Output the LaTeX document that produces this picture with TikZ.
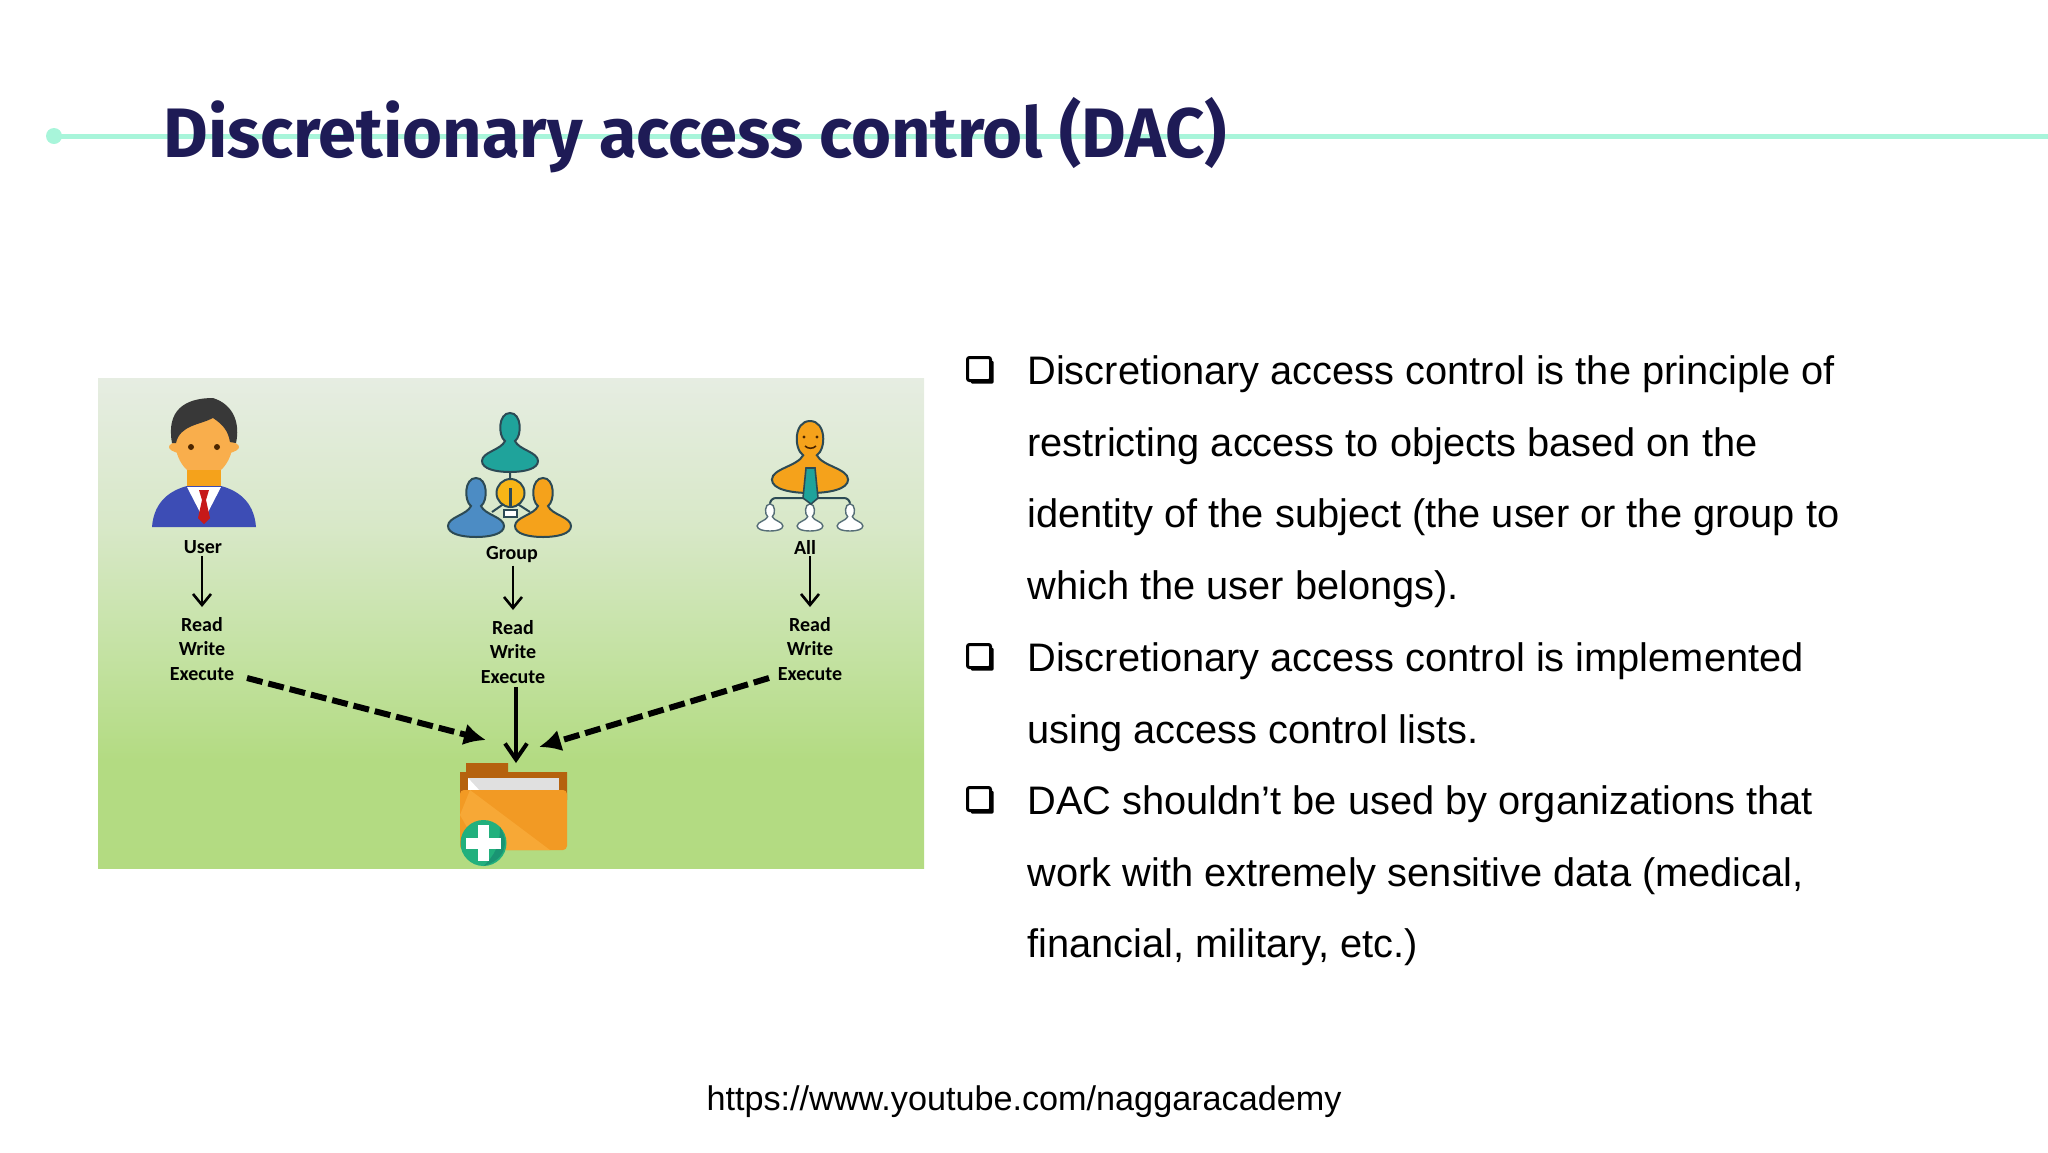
\documentclass[tikz,border=0pt]{standalone}
\usepackage{fontspec}
\setmainfont{Liberation Sans}
\newfontfamily\titlefont[FakeStretch=0.98]{Fira Sans}
\newfontfamily\photofont{Carlito}
\usetikzlibrary{positioning,arrows.meta,shadows}
\definecolor{titleink}{HTML}{1E1B56}
\definecolor{rulemint}{HTML}{A8F5DA}
\definecolor{outline}{HTML}{2C4A55}
\definecolor{suitblue}{HTML}{3D4DB5}
\definecolor{skin}{HTML}{F9AE4C}
\definecolor{amber}{HTML}{F5A21B}
\definecolor{folderside}{HTML}{B5620E}
\definecolor{foldermain}{HTML}{F29A24}
\definecolor{folderlight}{HTML}{F7A836}
\definecolor{teal}{HTML}{1FA39B}
\definecolor{steel}{HTML}{4C8CC4}
\definecolor{plusgreen}{HTML}{22B07D}
\definecolor{plusdark}{HTML}{1A9473}
\definecolor{fadea}{HTML}{B2DB80}
\definecolor{fadeb}{HTML}{B3DB82}
\definecolor{fadec}{HTML}{C4E2A3}
\definecolor{faded}{HTML}{D8E8C8}
\definecolor{fadee}{HTML}{E6EDE2}
\pgfdeclareverticalshading{photofade}{100bp}{
  color(0bp)=(fadea);
  color(36bp)=(fadeb);
  color(47bp)=(fadec);
  color(60bp)=(faded);
  color(75bp)=(fadee);
  color(100bp)=(fadee)}
\tikzset{
  pics/bust/.style={code={
    \path[pic actions] (-28,-11) .. controls (-28,-20) and (-9,-22) .. (-5,-31)
      .. controls (-12,-36) and (-12,-59) .. (0,-59)
      .. controls (12,-59) and (12,-36) .. (5,-31)
      .. controls (9,-22) and (28,-20) .. (28,-11)
      .. controls (28,-3) and (14,0) .. (0,0)
      .. controls (-14,0) and (-28,-3) .. (-28,-11) -- cycle;
  }}
}
\begin{document}
\begin{tikzpicture}[
  x=0.5pt, y=-0.5pt,
  bullettext/.style={anchor=north west, inner sep=0pt, align=left,
    font=\fontsize{19.9}{35.8}\selectfont},
  boxmark/.style={draw=black, fill=white, line width=1.5pt, rounded corners=1pt, inner sep=0pt, minimum size=11.5pt,
    drop shadow={shadow xshift=1.6pt, shadow yshift=-1.6pt, fill=black, opacity=1}},
  who/.style={inner sep=1pt, font=\photofont\bfseries\fontsize{10}{12}\selectfont},
  perm/.style={inner sep=1pt, align=center, font=\photofont\bfseries\fontsize{10}{12.25}\selectfont},
  thin arr/.style={-{Straight Barb[length=5.5pt,width=9pt]}, line width=1.3pt, black, shorten >=4pt},
  dash arr/.style={-{Latex[length=11pt,width=11pt]}, line width=3pt, black, dash pattern=on 8pt off 3pt},
  solid arr/.style={-{Straight Barb[length=8pt,width=11pt]}, line width=2pt, black},
  sketch/.style={draw=outline, line width=1pt},
  small sketch/.style={draw=outline!80, line width=.7pt}
]
\useasboundingbox (0,0) rectangle (2048,1152);

% title
\draw[rulemint, line width=2.5pt] (54,136) -- (2048,136);
\fill[rulemint] (54,136) circle (8);
\node[anchor=base west, inner sep=0pt, text=titleink, font=\titlefont\bfseries\fontsize{35}{40}\selectfont]
  (title) at (163,157) {Discretionary access control (DAC)};

% photo
\shade[shading=photofade] (98,378) rectangle (924,868);

% user
\fill[skin] (204,447) ellipse (35 and 9);
\fill[skin] (204,440) ellipse (29 and 37);
\fill[amber] (187,470) rectangle (221,488);
\fill[suitblue] (152,527) .. controls (154,500) and (172,490) .. (187,486) -- (221,486)
  .. controls (236,490) and (254,500) .. (256,527) -- cycle;
\fill[white] (187,487) -- (221,487) -- (204,520) -- cycle;
\fill[red!75!black!90!white] (199,490) -- (209,490) -- (206,500) -- (210,518) -- (204,524) -- (198,518) -- (202,500) -- cycle;
\fill[black!78] (172,443) .. controls (166,410) and (185,398) .. (213,398) .. controls (235,405) and (240,425) .. (236,443)
  -- (230,442) .. controls (228,430) and (222,424) .. (213,418) .. controls (200,425) and (180,425) .. (176,443) -- cycle;
\fill[black!70!orange] (191,447) circle (3) (217,447) circle (3);

% group
\pic[fill=teal, sketch] at (510,472) {bust};
\draw[outline, line width=1pt] (510,472) -- (510,480) (492,512) -- (505,503) (516,503) -- (530,512);
\pic[fill=steel, sketch] at (476,537) {bust};
\pic[fill=amber, sketch] at (543,537) {bust};
\fill[amber!80!yellow, draw=outline, line width=1pt] (510.5,493) circle (14);
\draw[fill=white, draw=outline, line width=.8pt] (504,510) rectangle (517,517);
\draw[outline, line width=1.2pt] (510.5,488) -- (510.5,506);

% all
\draw[outline, line width=1pt, rounded corners=3pt] (770,510) -- (770,498) -- (850,498) -- (850,510);
\draw[outline, line width=1pt] (810,498) -- (810,510);
\foreach \px in {770,810,850}
  \pic[fill=white, small sketch, scale=.46] at (\px,531) {bust};
\pic[fill=amber, sketch, xscale=1.36, yscale=1.22] at (810,493) {bust};
\fill[teal, draw=outline, line width=.8pt] (806,468) -- (815,468) -- (818,498) -- (811,504) -- (803,498) -- cycle;
\fill[black!70!orange] (804,437) circle (1.6) (817,437) circle (1.6);
\draw[black!70!orange, line width=.8pt] (805,446) .. controls (808,449) and (813,449) .. (816,446);

% folder
\fill[folderside] (466,763) -- (508,763) -- (508,772) -- (567,772) -- (567,800) -- (460,800) -- (460,772) -- (466,772) -- cycle;
\fill[black!12] (468,778) rectangle (559,792);
\fill[white] (468,778) -- (481,792) -- (468,792) -- cycle;
\fill[foldermain, rounded corners=2pt] (460,790) rectangle (567,850);
\fill[folderlight] (470,790) -- (550,850) -- (480,850) -- (460,815) -- cycle;
\fill[plusgreen] (483.5,843) circle (23);
\fill[plusdark] (500,827) .. controls (510,843) and (505,860) .. (483.5,866) .. controls (495,855) and (500,845) .. (500,827) -- cycle;
\fill[white] (478,825) rectangle (489,861);
\fill[white] (466,838) rectangle (501,849);

\coordinate (folderleft) at (486,740);
\coordinate (foldertop) at (516,763);
\coordinate (folderright) at (539,747);
\coordinate (userout) at (247,678);
\coordinate (allout) at (769,678);
\coordinate (groupdown) at (516,687);

% labels
\node[who] (user) at (203,547) {User};
\node[who] (group) at (512,555) {Group};
\node[who] (all) at (805,547) {All};
\node[perm] (userperm) at (202,649) {Read\\Write\\Execute};
\node[perm] (groupperm) at (513,652) {Read\\Write\\Execute};
\node[perm] (allperm) at (810,649) {Read\\Write\\Execute};

\draw[thin arr] (user.south -| userperm.north) -- (userperm.north);
\draw[thin arr] (group.south -| groupperm.north) -- (groupperm.north);
\draw[thin arr] (all.south -| allperm.north) -- (allperm.north);
\draw[dash arr] (userout) -- (folderleft);
\draw[dash arr] (allout) -- (folderright);
\draw[solid arr] (groupdown) -- (foldertop);

% bullets
\node[bullettext] (first) at (1027,355.5) {Discretionary access control is the principle of\\restricting access to objects based on the\\identity of the subject (the user or the group to\\which the user belongs).};
\node[bullettext] (second) at (1027,642.5) {Discretionary access control is implemented\\using access control lists.};
\node[bullettext] (third) at (1027,785.5) {DAC shouldn’t be used by organizations that\\work with extremely sensitive data (medical,\\financial, military, etc.)};
\node[boxmark] (firstbox) at (979,369) {};
\node[boxmark] (secondbox) at (979,656) {};
\node[boxmark] (thirdbox) at (979,799) {};

\node[inner sep=0pt, font=\fontsize{17.1}{22}\selectfont] (source) at (1024,1102) {https://www.youtube.com/naggaracademy};
\end{tikzpicture}
\end{document}
